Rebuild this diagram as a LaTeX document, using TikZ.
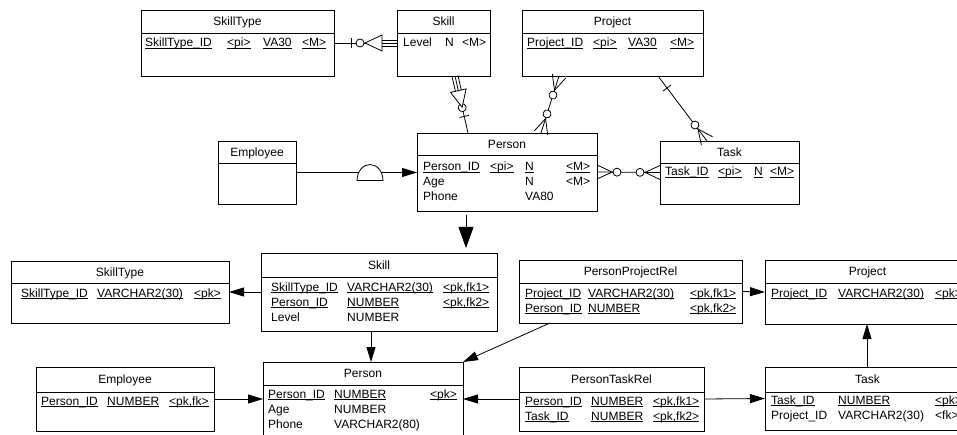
\documentclass[tikz,border=0pt]{standalone}
\usepackage{fontspec}
\setmainfont{Liberation Sans}
\usepackage{tikz}
\usetikzlibrary{arrows.meta,calc,positioning,decorations.markings}

\newcommand{\ku}[1]{\underline{\smash{#1}}}
\newcommand{\entity}[7]{%
  \node[ent, minimum width={(#4-#2)*1pt}, minimum height={(#5-#3)*1pt}] (#1) at (#2,-#3) {};
  \draw[sym] (#2,-#6) -- (#4,-#6);
  \node[enttitle] (#1-t) at ({(#2+#4)/2},{-(#3+#6)/2}) {#7};}

\tikzset{
  sym/.style={line width=0.8pt},
  ent/.style={draw, line width=0.8pt, anchor=north west, inner sep=0pt, outer sep=0pt},
  enttitle/.style={inner sep=0pt, text height=8.6pt, text depth=0pt},
  attr/.style={anchor=base west, inner sep=0pt},
  conn/.style={line width=0.8pt},
  fk/.style={conn, -{Triangle[length=15pt,width=9pt]}},
  gen/.style={conn, -{Triangle[length=21pt,width=15pt]}},
  depend/.style={conn, postaction={decorate}, decoration={markings,
    mark=at position 17pt with {\draw[sym] (0pt,-5pt) -- (0pt,5pt);},
    mark=at position 26pt with {\draw[sym, fill=white] (0pt,0pt) circle (4pt);},
    mark=at position -32pt with {\draw[sym, fill=white] (0pt,0pt) -- (17pt,8pt) -- (17pt,-8pt) -- cycle;},
    mark=at position -15pt with {\draw[sym] (0pt,3pt) -- (15pt,3pt) (0pt,-3pt) -- (15pt,-3pt);}}},
  manymany/.style={conn, postaction={decorate}, decoration={markings,
    mark=at position 0.1pt with {\draw[sym] (0pt,7pt) -- (15pt,0pt) -- (0pt,-7pt);},
    mark=at position 20pt with {\draw[sym, fill=white] (0pt,0pt) circle (4pt);},
    mark=at position -20pt with {\draw[sym, fill=white] (0pt,0pt) circle (4pt);},
    mark=at position -15pt with {\draw[sym] (15pt,7pt) -- (0pt,0pt) -- (15pt,-7pt);}}},
  onemany/.style={conn, postaction={decorate}, decoration={markings,
    mark=at position 15pt with {\draw[sym] (0pt,-5pt) -- (0pt,5pt);},
    mark=at position -20pt with {\draw[sym, fill=white] (0pt,0pt) circle (4pt);},
    mark=at position -15pt with {\draw[sym] (15pt,7pt) -- (0pt,0pt) -- (15pt,-7pt);}}},
  subtype/.style={fk, postaction={decorate}, decoration={markings,
    mark=at position 74pt with {\draw[sym, fill=white] (-13pt,-8pt) arc[start angle=180, end angle=0, x radius=13pt, y radius=16pt] -- cycle;}}},
}

\begin{document}
\begin{tikzpicture}[x=1pt, y=1pt, font=\fontsize{12}{15}\selectfont]
  \fill[white] (0,0) rectangle (957,-435);
  \useasboundingbox (0,0) rectangle (957,-435);
  \clip (0,0) rectangle (957,-435);

  \entity{stA}{141}{10}{334}{76}{33}{SkillType}
  \entity{skA}{397}{10}{490}{76}{33}{Skill}
  \entity{pjA}{522}{10}{703}{76}{33}{Project}
  \entity{emA}{218}{141}{296}{204}{163}{Employee}
  \entity{psA}{417}{133}{597}{211}{155}{Person}
  \entity{tkA}{660}{141}{799}{204}{163}{Task}

  \node[attr] (stA-a) at (145,-47) {\begin{tabular}[t]{@{}p{82pt}@{}p{36pt}@{}p{39pt}@{}l@{}}
    \ku{SkillType\_ID} & \ku{<pi>} & \ku{VA30} & \ku{<M>}
  \end{tabular}};
  \node[attr] (skA-a) at (403,-47) {\begin{tabular}[t]{@{}p{42pt}@{}p{17pt}@{}l@{}}
    Level & N & <M>
  \end{tabular}};
  \node[attr] (pjA-a) at (527,-47) {\begin{tabular}[t]{@{}p{66pt}@{}p{35pt}@{}p{42pt}@{}l@{}}
    \ku{Project\_ID} & \ku{<pi>} & \ku{VA30} & \ku{<M>}
  \end{tabular}};
  \node[attr] (psA-a) at (423,-171) {\begin{tabular}[t]{@{}p{67pt}@{}p{35pt}@{}p{41pt}@{}l@{}}
    \ku{Person\_ID} & \ku{<pi>} & \ku{N} & \ku{<M>}\\
    Age & & N & <M>\\
    Phone & & VA80 &
  \end{tabular}};
  \node[attr] (tkA-a) at (665,-176) {\begin{tabular}[t]{@{}p{53pt}@{}p{36pt}@{}p{16pt}@{}l@{}}
    \ku{Task\_ID} & \ku{<pi>} & \ku{N} & \ku{<M>}
  \end{tabular}};

  \draw[depend] (stA.east) -- (skA.west);
  \draw[depend] ($(psA.north west)+(51,0)$) -- ($(skA.south west)+(58,0)$);
  \draw[manymany] ($(psA.north west)+(124,0)$) -- ($(pjA.south west)+(37,0)$);
  \draw[manymany] (psA.east) -- (tkA.west);
  \draw[onemany] ($(pjA.south west)+(136,0)$) -- ($(tkA.north west)+(47,0)$);
  \draw[subtype] (emA.east) -- (emA.east -| psA.west);

  \entity{stB}{11}{261}{229}{323}{283}{SkillType}
  \entity{skB}{261}{253}{497}{331}{277}{Skill}
  \entity{ppB}{519}{260}{742}{323}{283}{PersonProjectRel}
  \entity{pjB}{765}{260}{970}{324}{283}{Project}
  \entity{emB}{36}{367}{214}{431}{392}{Employee}
  \entity{psB}{263}{362}{463}{445}{385}{Person}
  \entity{ptB}{519}{367}{704}{431}{392}{PersonTaskRel}
  \entity{tkB}{765}{367}{970}{430}{392}{Task}

  \draw[gen] ($(psA.south west)+(49,-4)$) -- ($(skB.north west)+(205,5)$);

  \node[attr] (stB-a) at (21,-297) {\begin{tabular}[t]{@{}p{76pt}@{}p{97pt}@{}l@{}}
    \ku{SkillType\_ID} & \ku{VARCHAR2(30)} & \ku{<pk>}
  \end{tabular}};
  \node[attr] (skB-a) at (271,-291) {\begin{tabular}[t]{@{}p{76pt}@{}p{96pt}@{}l@{}}
    \ku{SkillType\_ID} & \ku{VARCHAR2(30)} & \ku{<pk,fk1>}\\
    \ku{Person\_ID} & \ku{NUMBER} & \ku{<pk,fk2>}\\
    Level & NUMBER &
  \end{tabular}};
  \node[attr] (ppB-a) at (525,-297) {\begin{tabular}[t]{@{}p{63pt}@{}p{102pt}@{}l@{}}
    \ku{Project\_ID} & \ku{VARCHAR2(30)} & \ku{<pk,fk1>}\\
    \ku{Person\_ID} & \ku{NUMBER} & \ku{<pk,fk2>}
  \end{tabular}};
  \node[attr] (pjB-a) at (771,-297) {\begin{tabular}[t]{@{}p{67pt}@{}p{97pt}@{}l@{}}
    \ku{Project\_ID} & \ku{VARCHAR2(30)} & \ku{<pk>}
  \end{tabular}};
  \node[attr] (emB-a) at (41,-405) {\begin{tabular}[t]{@{}p{66pt}@{}p{62pt}@{}l@{}}
    \ku{Person\_ID} & \ku{NUMBER} & \ku{<pk,fk>}
  \end{tabular}};
  \node[attr] (psB-a) at (268,-398) {\begin{tabular}[t]{@{}p{66pt}@{}p{96pt}@{}l@{}}
    \ku{Person\_ID} & \ku{NUMBER} & \ku{<pk>}\\
    Age & NUMBER &\\
    Phone & VARCHAR2(80) &
  \end{tabular}};
  \node[attr] (ptB-a) at (525,-405) {\begin{tabular}[t]{@{}p{66pt}@{}p{62pt}@{}l@{}}
    \ku{Person\_ID} & \ku{NUMBER} & \ku{<pk,fk1>}\\
    \ku{Task\_ID} & \ku{NUMBER} & \ku{<pk,fk2>}
  \end{tabular}};
  \node[attr] (tkB-a) at (771,-404) {\begin{tabular}[t]{@{}p{67pt}@{}p{97pt}@{}l@{}}
    \ku{Task\_ID} & \ku{NUMBER} & \ku{<pk>}\\
    Project\_ID & VARCHAR2(30) & <fk>
  \end{tabular}};

  \draw[fk] (skB.west) -- (stB.east);
  \draw[fk] ($(skB.south west)+(110,0)$) -- ($(psB.north west)+(108,0)$);
  \draw[fk] ($(ppB.south west)+(31,0)$) -- (psB.north east);
  \draw[fk] (ppB.east) -- (pjB.west);
  \draw[fk] (emB.east) -- (emB.east -| psB.west);
  \draw[fk] (ptB.west) -- (ptB.west -| psB.east);
  \draw[fk] (ptB.east) -- (tkB.west);
  \draw[fk] ($(tkB.north west)+(102,0)$) -- ($(pjB.south west)+(102,0)$);
\end{tikzpicture}
\end{document}
